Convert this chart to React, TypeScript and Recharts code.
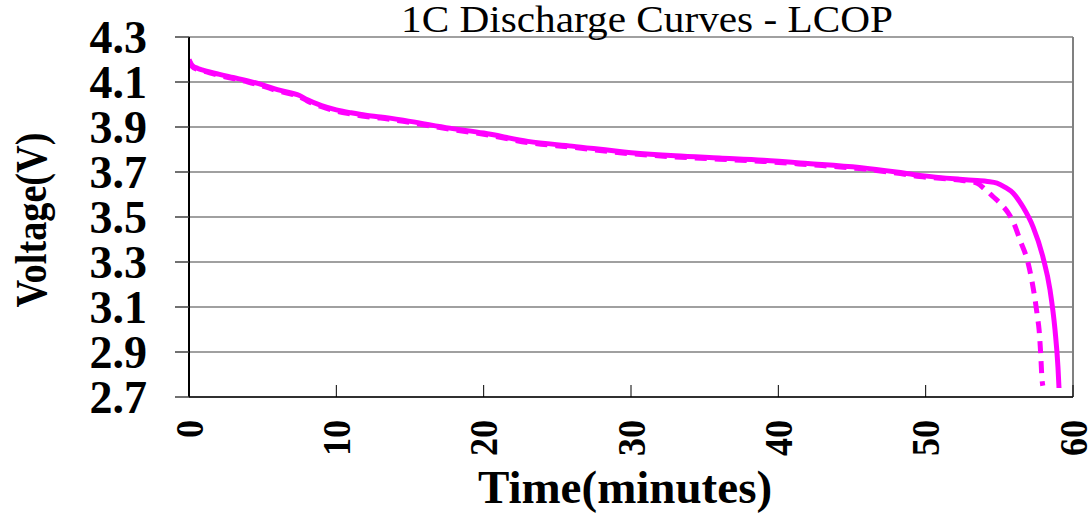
import React from 'react';
import {
  LineChart,
  Line,
  XAxis,
  YAxis,
  CartesianGrid,
  ReferenceLine
} from 'recharts';

const solidTime = [0, 0.2, 0.6, 1, 2, 3, 4, 5, 6, 7, 7.5, 8, 9, 10, 11, 12, 13, 15, 17.7, 20, 23, 26, 30, 33, 36, 39, 42, 45.5, 48, 49.6, 52.3, 53.5, 54.2, 54.84, 55.4, 55.93, 56.61, 57.29, 57.96, 58.44, 58.78, 58.98, 59.05];
const solidVolt = [4.2, 4.175, 4.16, 4.152, 4.135, 4.12, 4.105, 4.087, 4.066, 4.05, 4.04, 4.022, 3.995, 3.976, 3.963, 3.952, 3.945, 3.925, 3.895, 3.873, 3.836, 3.815, 3.786, 3.772, 3.762, 3.752, 3.738, 3.72, 3.7, 3.685, 3.668, 3.662, 3.658, 3.651, 3.632, 3.607, 3.544, 3.456, 3.322, 3.176, 2.998, 2.833, 2.74];

const dashTime = [0, 0.2, 0.6, 1, 2, 3, 4, 5, 6, 7, 7.5, 8, 9, 10, 11, 12, 13, 15, 17.7, 20, 23, 26, 30, 33, 36, 39, 42, 45.5, 48, 49.6, 52.3, 53, 53.5, 54, 54.6, 55.1, 55.6, 56, 56.4, 56.95, 57.2, 57.4, 57.6, 57.7, 57.8, 57.9, 57.95];
const dashVolt = [4.195, 4.17, 4.155, 4.148, 4.13, 4.115, 4.1, 4.082, 4.061, 4.045, 4.035, 4.017, 3.99, 3.971, 3.958, 3.947, 3.94, 3.92, 3.89, 3.868, 3.831, 3.81, 3.781, 3.767, 3.757, 3.747, 3.733, 3.715, 3.695, 3.68, 3.664, 3.658, 3.65, 3.625, 3.589, 3.558, 3.518, 3.47, 3.398, 3.296, 3.22, 3.144, 3.05, 2.998, 2.9, 2.776, 2.75];

const xTicks = [0, 10, 20, 30, 40, 50, 60];
const yTicks = [2.7, 2.9, 3.1, 3.3, 3.5, 3.7, 3.9, 4.1, 4.3];

const solidData = solidTime.map((t, i) => ({ t, v: solidVolt[i] }));
const dashData = dashTime.map((t, i) => ({ t, v: dashVolt[i] }));

const FONT = "'Liberation Serif', 'Times New Roman', serif";

const XTick = ({ x, y, payload }: any) => {
  const s = String(payload.value);
  return (
    <text
      x={x}
      y={y}
      transform={`rotate(-90, ${x}, ${y})`}
      textAnchor="end"
      dy="0.34em"
      fontFamily={FONT}
      fontWeight="bold"
      fontSize={40}
      textLength={s.length * 18}
      lengthAdjust="spacingAndGlyphs"
      fill="#000"
    >
      {s}
    </text>
  );
};

const YTick = ({ x, y, payload }: any) => (
  <text x={x} y={y} textAnchor="end" dy="0.34em" fontFamily={FONT} fontWeight="bold" fontSize={46} fill="#000">
    {payload.value.toFixed(1)}
  </text>
);

const YLabel = ({ viewBox }: any) => {
  const cx = 33;
  const cy = viewBox.y + viewBox.height / 2 + 3;
  return (
    <text
      x={cx}
      y={cy}
      transform={`rotate(-90, ${cx}, ${cy})`}
      textAnchor="middle"
      fontFamily={FONT}
      fontWeight="bold"
      fontSize={44}
      textLength={175}
      lengthAdjust="spacingAndGlyphs"
      dy="0.3em"
      fill="#000"
    >
      Voltage(V)
    </text>
  );
};

const XLabel = ({ viewBox }: any) => (
  <text
    x={viewBox.x + viewBox.width / 2 - 6}
    y={503}
    textAnchor="middle"
    fontFamily={FONT}
    fontWeight="bold"
    fontSize={47}
    fill="#000"
  >
    Time(minutes)
  </text>
);

export default function App() {
  return (
    <div style={{ position: 'absolute', left: 0, top: 0, width: 1091, height: 514, background: '#fff' }}>
      <LineChart width={1091} height={514} margin={{ top: 37, right: 18, left: 0, bottom: 0 }}>
        <CartesianGrid vertical={false} stroke="#808080" strokeWidth={1.5} />
        <XAxis
          type="number"
          dataKey="t"
          domain={[0, 60]}
          ticks={xTicks}
          height={117}
          tickSize={-12}
          tickMargin={35}
          tick={<XTick />}
          axisLine={{ stroke: '#303030', strokeWidth: 2 }}
          tickLine={{ stroke: '#000', strokeWidth: 1 }}
          label={<XLabel />}
          allowDataOverflow
        />
        <YAxis
          type="number"
          domain={[2.7, 4.3]}
          ticks={yTicks}
          width={189}
          tickSize={14}
          tickMargin={28}
          tick={<YTick />}
          axisLine={{ stroke: '#000', strokeWidth: 2 }}
          tickLine={{ stroke: '#404040', strokeWidth: 1.5 }}
          label={<YLabel />}
          allowDataOverflow
        />
        <ReferenceLine x={60} stroke="#808080" strokeWidth={2} ifOverflow="visible" />
        <Line
          data={dashData}
          dataKey="v"
          type="monotone"
          stroke="#ff00ff"
          strokeWidth={5}
          strokeDasharray="12 8"
          dot={false}
          activeDot={false}
          isAnimationActive={false}
        />
        <Line
          data={solidData}
          dataKey="v"
          type="monotone"
          stroke="#ff00ff"
          strokeWidth={5}
          dot={false}
          activeDot={false}
          isAnimationActive={false}
        />
      </LineChart>
      <svg width={1091} height={60} style={{ position: 'absolute', left: 0, top: 0, pointerEvents: 'none' }}>
        <text x={647} y={32} textAnchor="middle" fontFamily={FONT} fontSize={38} textLength={492} lengthAdjust="spacingAndGlyphs" fill="#000">
          1C Discharge Curves - LCOP
        </text>
      </svg>
    </div>
  );
}
